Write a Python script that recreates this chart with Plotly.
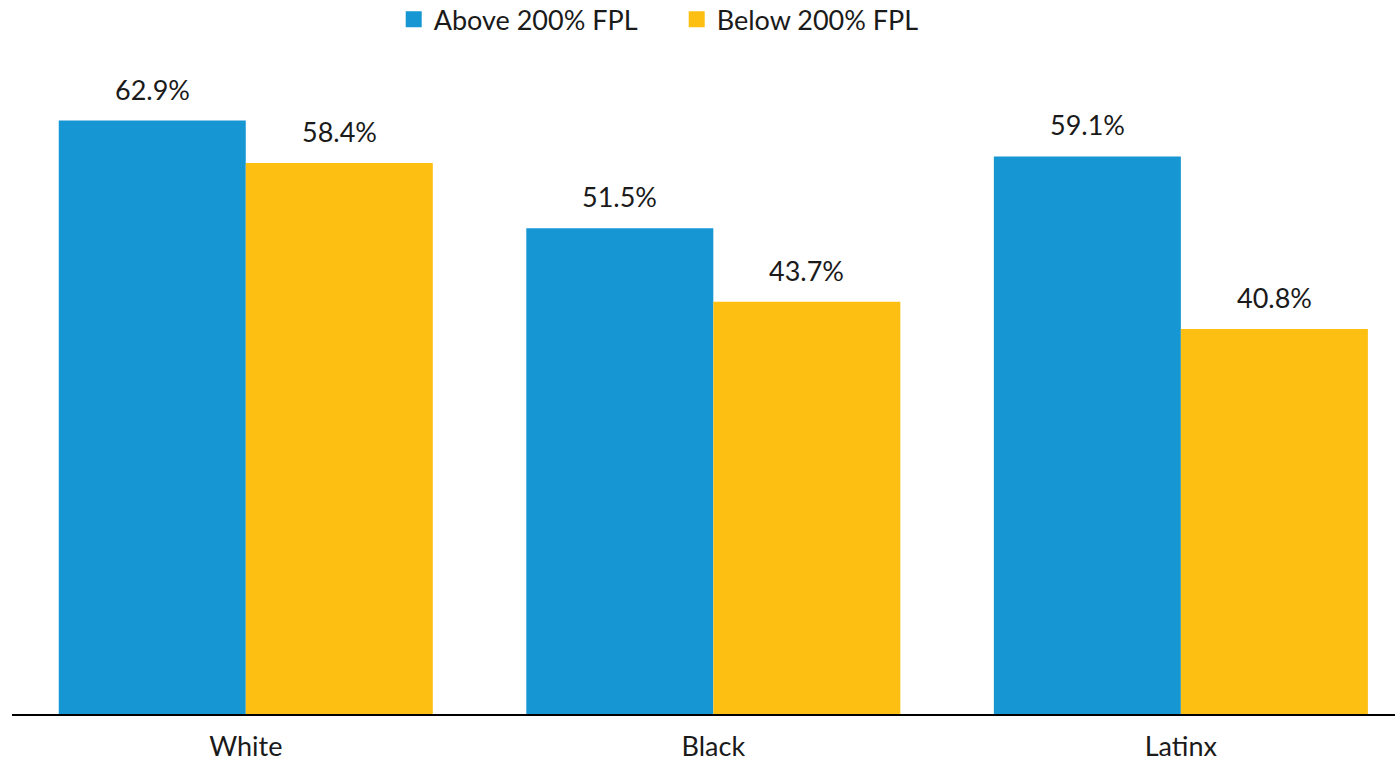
import plotly.graph_objects as go

categories = ["White", "Black", "Latinx"]
above_200 = [62.9, 51.5, 59.1]
below_200 = [58.4, 43.7, 40.8]
series_names = ["Above 200% FPL", "Below 200% FPL"]

BLUE = "#1696d2"
YELLOW = "#fdbf11"
FONT = "Lato"
FSIZE = 27
TXT = "#1a1a1a"

fig = go.Figure()
for name, vals, col in [(series_names[0], above_200, BLUE), (series_names[1], below_200, YELLOW)]:
    fig.add_trace(go.Bar(
        x=categories, y=vals, name=name, marker=dict(color=col, line=dict(width=0)),
        showlegend=False, cliponaxis=False,
    ))
    # legend proxy with a bigger square swatch
    fig.add_trace(go.Scatter(
        x=[None], y=[None], mode="markers", name=name,
        marker=dict(symbol="square", size=18, color=col), showlegend=True,
    ))

# value labels
px_shift = 93.5
for vals, shift in [(above_200, -px_shift), (below_200, px_shift)]:
    for c, v in zip(categories, vals):
        fig.add_annotation(
            x=c, y=v, text=f"{v:.1f}%", showarrow=False,
            xanchor="center", yanchor="bottom", xshift=shift, yshift=13,
            font=dict(family=FONT, size=FSIZE, color=TXT),
        )

fig.update_layout(
    width=1395, height=764,
    margin=dict(l=12, r=0, t=64, b=50, autoexpand=False),
    paper_bgcolor="white", plot_bgcolor="white",
    barmode="group", bargap=0.2, bargroupgap=0,
    font=dict(family=FONT, size=FSIZE, color=TXT),
    legend=dict(
        orientation="h", x=0.276, xanchor="left", y=1.068, yanchor="middle",
        yref="paper", font=dict(family=FONT, size=FSIZE, color=TXT),
        itemwidth=30, tracegroupgap=0, entrywidth=238, entrywidthmode="pixels",
    ),
    xaxis=dict(
        range=[-0.5, 2.458], showgrid=False, zeroline=False,
        showline=True, linecolor="black", linewidth=2,
        ticks="", tickfont=dict(family=FONT, size=FSIZE, color=TXT),
        ticklabelstandoff=8, fixedrange=True, automargin=False,
    ),
    yaxis=dict(
        range=[0, 68.9], showgrid=False, zeroline=False, showline=False,
        showticklabels=False, ticks="", fixedrange=True, automargin=False,
    ),
)

fig.write_html("out.html")
